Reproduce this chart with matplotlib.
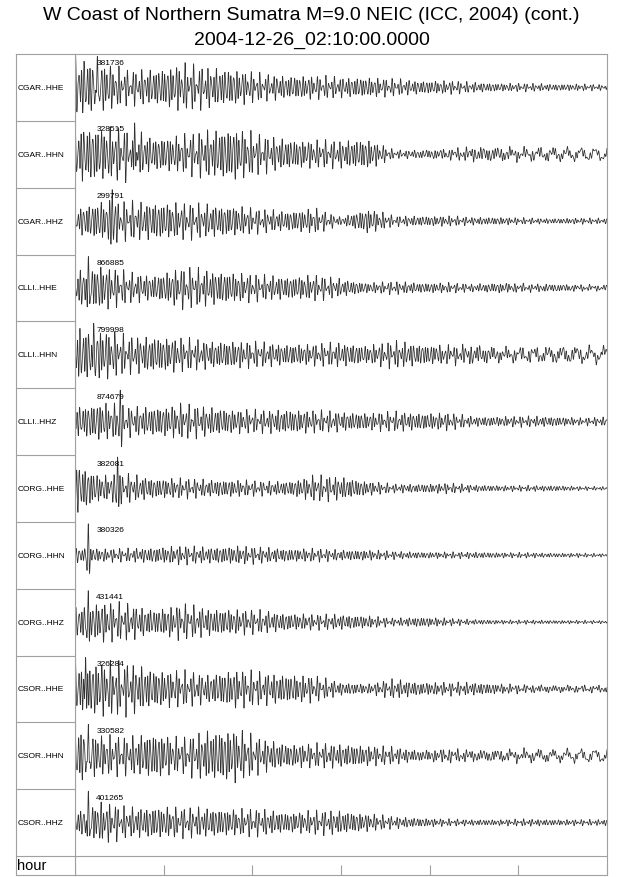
import numpy as np
import matplotlib
matplotlib.use("Agg")
import matplotlib.pyplot as plt

plt.rcParams['font.family'] = ['Liberation Sans', 'DejaVu Sans']

# ----------------------------
# Data
# ----------------------------

title_line1 = "W Coast of Northern Sumatra M=9.0 NEIC (ICC, 2004) (cont.)"
title_line2 = "2004-12-26_02:10:00.0000"

channels = ["CGAR..HHE", "CGAR..HHN", "CGAR..HHZ",
            "CLLI..HHE", "CLLI..HHN", "CLLI..HHZ",
            "CORG..HHE", "CORG..HHN", "CORG..HHZ",
            "CSOR..HHE", "CSOR..HHN", "CSOR..HHZ"]

peak_counts = ["381736", "328515", "299791",
               "866885", "799998", "874679",
               "382081", "380326", "431441",
               "326284", "330582", "401265"]

# envelope of each trace, relative to its peak, sampled every 5% of the window
env_cgar_hhe = [0.9, 0.75, 0.5, 0.55, 0.7, 0.6, 0.55, 0.4, 0.35, 0.35, 0.3, 0.3, 0.25, 0.2, 0.2, 0.15, 0.12, 0.12, 0.1, 0.1, 0.08]
env_cgar_hhn = [0.85, 0.8, 0.75, 0.5, 0.55, 0.7, 0.8, 0.55, 0.45, 0.4, 0.4, 0.45, 0.12, 0.12, 0.15, 0.2, 0.18, 0.15, 0.15, 0.12, 0.1]
env_cgar_hhz = [0.5, 0.8, 0.75, 0.75, 0.7, 0.65, 0.6, 0.45, 0.4, 0.5, 0.15, 0.5, 0.2, 0.2, 0.2, 0.15, 0.15, 0.12, 0.1, 0.12, 0.1]
env_clli_hhe = [0.7, 0.9, 0.6, 0.5, 0.8, 0.7, 0.6, 0.5, 0.45, 0.5, 0.35, 0.2, 0.25, 0.2, 0.2, 0.15, 0.2, 0.15, 0.15, 0.12, 0.1]
env_clli_hhn = [0.9, 0.85, 0.6, 0.6, 0.55, 0.45, 0.45, 0.4, 0.35, 0.35, 0.4, 0.3, 0.45, 0.35, 0.3, 0.3, 0.2, 0.2, 0.2, 0.2, 0.15]
env_clli_hhz = [0.6, 0.8, 0.6, 0.6, 0.7, 0.6, 0.5, 0.45, 0.5, 0.45, 0.4, 0.35, 0.4, 0.35, 0.35, 0.2, 0.2, 0.22, 0.2, 0.15, 0.18]
env_corg_hhe = [0.9, 0.45, 0.5, 0.35, 0.35, 0.3, 0.3, 0.25, 0.25, 0.45, 0.4, 0.25, 0.15, 0.15, 0.18, 0.12, 0.1, 0.1, 0.1, 0.07, 0.06]
env_corg_hhn = [0.3, 0.25, 0.25, 0.3, 0.35, 0.3, 0.35, 0.3, 0.25, 0.25, 0.2, 0.2, 0.15, 0.12, 0.12, 0.12, 0.1, 0.1, 0.08, 0.08, 0.06]
env_corg_hhz = [0.6, 0.8, 0.7, 0.5, 0.7, 0.55, 0.5, 0.45, 0.35, 0.3, 0.3, 0.25, 0.15, 0.2, 0.15, 0.1, 0.08, 0.08, 0.07, 0.07, 0.06]
env_csor_hhe = [0.8, 0.85, 0.8, 0.6, 0.55, 0.45, 0.6, 0.5, 0.45, 0.4, 0.2, 0.15, 0.3, 0.2, 0.2, 0.2, 0.15, 0.12, 0.1, 0.1, 0.1]
env_csor_hhn = [0.9, 0.6, 0.55, 0.7, 0.5, 0.75, 0.8, 0.5, 0.35, 0.35, 0.35, 0.3, 0.25, 0.15, 0.2, 0.15, 0.15, 0.15, 0.12, 0.12, 0.1]
env_csor_hhz = [0.4, 0.7, 0.5, 0.55, 0.5, 0.5, 0.45, 0.45, 0.35, 0.4, 0.4, 0.3, 0.2, 0.15, 0.12, 0.1, 0.1, 0.12, 0.1, 0.1, 0.1]

envelopes = [env_cgar_hhe, env_cgar_hhn, env_cgar_hhz,
             env_clli_hhe, env_clli_hhn, env_clli_hhz,
             env_corg_hhe, env_corg_hhn, env_corg_hhz,
             env_csor_hhe, env_csor_hhn, env_csor_hhz]

# position (fraction of window) of the largest swing of each trace
peak_pos = [0.042, 0.112, 0.07, 0.025, 0.035, 0.085, 0.08, 0.025, 0.025, 0.02, 0.025, 0.025]

# long-period wander seen in the tail of the horizontal components
tail_wander = [0.0, 0.12, 0.0, 0.03, 0.15, 0.0, 0.0, 0.0, 0.0, 0.03, 0.12, 0.0]

# ----------------------------
# Layout (pixels of a 640x878 canvas)
# ----------------------------

W, H = 640, 878
x_label, x_trace, x_right = 16, 75, 607
y_top, y_hour, y_bottom = 55, 857, 876
n_rows = len(channels)
row_h = (y_hour - y_top) / n_rows
frame_col = "#a0a0a0"
trace_col = "#303030"

fig = plt.figure(figsize=(W / 100, H / 100), dpi=100)

ax = fig.add_axes([x_trace / W, 1 - y_bottom / H,
                   (x_right - x_trace) / W, (y_bottom - y_top) / H])
hour_rows = (y_bottom - y_hour) / row_h
ax.set_xlim(0, 6)
ax.set_ylim(-hour_rows, n_rows)
for s in ax.spines.values():
    s.set_color(frame_col)
    s.set_linewidth(0.8)
ax.set_yticks([])
ax.set_xticks(range(7))
ax.set_xticklabels([])
ax.tick_params(axis='x', direction='in', length=7, color=frame_col, width=0.8)

t = np.linspace(0, 1, 4000)
grid = np.linspace(0, 1, 21)

for i, (env_vals, pk, wander) in enumerate(zip(envelopes, peak_pos, tail_wander)):
    env = np.interp(t, grid, env_vals)
    ph = 0.7 * i
    carrier = (0.6 * np.sin(2 * np.pi * 185 * t + ph)
               + 0.3 * np.sin(2 * np.pi * 257 * t + 2.1 * ph)
               + 0.25 * np.sin(2 * np.pi * 121 * t + 1.3))
    carrier = carrier / np.max(np.abs(carrier))
    wave = env * carrier
    wave += wander * np.clip((t - 0.6) / 0.4, 0, 1) * np.sin(2 * np.pi * 38 * t + ph)
    # largest swing
    bump = np.exp(-((t - pk) / 0.003) ** 2) * np.cos(2 * np.pi * 185 * (t - pk))
    wave = wave * (1 - 0.6 * np.exp(-((t - pk) / 0.003) ** 2)) + bump
    wave = wave / np.max(np.abs(wave))
    y0 = n_rows - i - 0.5
    ax.plot(t * 6, y0 + 0.47 * wave, color=trace_col, lw=0.55)
    ax.text(0.24, n_rows - i - 0.12, peak_counts[i], fontsize=6, va='center', ha='left')

ax.axhline(0, color=frame_col, lw=0.8)

# label column
lab = fig.add_axes([x_label / W, 1 - y_bottom / H,
                    (x_trace - x_label) / W, (y_bottom - y_top) / H])
lab.set_xlim(0, 1)
lab.set_ylim(-hour_rows, n_rows)
lab.set_xticks([])
lab.set_yticks([])
for s in lab.spines.values():
    s.set_color(frame_col)
    s.set_linewidth(0.8)
for k in range(n_rows):
    lab.axhline(k, color=frame_col, lw=0.8)
for i, name in enumerate(channels):
    lab.text(0.03, n_rows - i - 0.5, name, fontsize=6, va='center', ha='left')
lab.text(0.02, -hour_rows / 2, "hour", fontsize=10.5, va='center', ha='left')

title_x = (x_label + x_right) / 2 / W
fig.text(title_x, 1 - 16 / H, title_line1, ha='center', va='center', fontsize=14)
fig.text(title_x, 1 - 40 / H, title_line2, ha='center', va='center', fontsize=14)

fig.savefig("out.png", dpi=100)
